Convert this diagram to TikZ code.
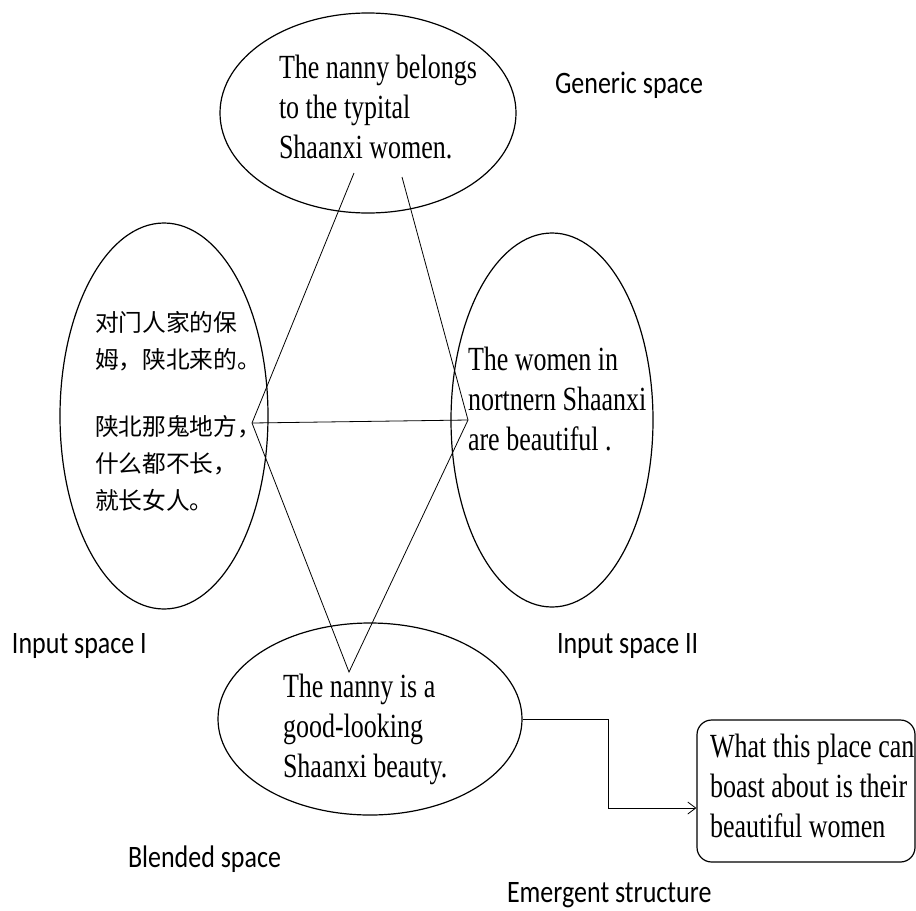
\documentclass[tikz,border=0pt]{standalone}
\usepackage{fontspec}
\usepackage{graphicx}
\setmainfont{Liberation Serif}
\newfontfamily\labfont{Carlito}
\newfontfamily\cjkfont{Noto Sans CJK SC}
\usetikzlibrary{shapes.geometric,arrows.meta}
\newcommand\sertext[1]{\scalebox{1}[1.3]{\fontsize{19.5pt}{23.1pt}\selectfont\begin{tabular}[t]{@{}l@{}}#1\end{tabular}}}
\newcommand\labtext[1]{\scalebox{1}[1.2]{\labfont\fontsize{19.5pt}{23pt}\selectfont #1}}
\tikzset{
  ell/.style={draw, ellipse, line width=0.9pt, inner sep=0pt},
  txt/.style={inner sep=0pt, outer sep=0pt, anchor=base west},
  conn/.style={line width=0.6pt},
  resultbox/.style={draw, rounded corners=11pt, line width=0.9pt, inner sep=0pt}
}
\begin{document}
\begin{tikzpicture}[x=0.75pt,y=-0.75pt]
\useasboundingbox (0,0) rectangle (916,910);
% ellipses
\node[ell, minimum width=222pt, minimum height=150pt] (gen) at (368,113) {};
\node[ell, minimum width=156pt, minimum height=289.5pt] (in1) at (164,416) {};
\node[ell, minimum width=151.5pt, minimum height=280.5pt] (in2) at (552,420) {};
\node[ell, minimum width=228pt, minimum height=144pt] (blend) at (370,719) {};
\node[resultbox, minimum width=163.5pt, minimum height=106.5pt] (emer) at (806,791) {};
% texts
\node[txt] (gentext) at (279,78) {\sertext{The nanny belongs\\to the typital\\Shaanxi women.}};
\node[txt] (in1text) at (95,331) {\cjkfont\fontsize{17.8pt}{27.75pt}\selectfont\begin{tabular}[t]{@{}l@{}}对门人家的保\\姆，陕北来的。\\[23pt]陕北那鬼地方，\\什么都不长，\\就长女人。\end{tabular}};
\node[txt] (in2text) at (468,370) {\sertext{The women in\\nortnern Shaanxi\\are beautiful .}};
\node[txt] (blendtext) at (283,697) {\sertext{The nanny is a\\good-looking\\Shaanxi beauty.}};
\node[txt] (emertext) at (710,757) {\sertext{What this place can\\boast about is their\\beautiful women}};
% labels
\node[txt] (lgen) at (555,93) {\labtext{Generic space}};
\node[txt] (lin1) at (12,653) {\labtext{Input space I}};
\node[txt] (lin2) at (557,653) {\labtext{Input space II}};
\node[txt] (lblend) at (128,867) {\labtext{Blended space}};
\node[txt] (lemer) at (507,902) {\labtext{Emergent structure}};
% mapping lines
\coordinate (t1) at (354,173);
\coordinate (t2) at (402,177);
\coordinate (jl) at (252,423);
\coordinate (jr) at (468,420);
\coordinate (jb) at (349,672);
\draw[conn] (t1) -- (jl) -- (jb) -- (jr) -- (t2);
\draw[conn] (jl) -- (jr);
% emergent arrow
\draw[conn, -{Straight Barb[length=6pt,width=9pt]}] (blend.east) -- ++(86,0) |- ([yshift=-12.75pt]emer.west);
\end{tikzpicture}
\end{document}
